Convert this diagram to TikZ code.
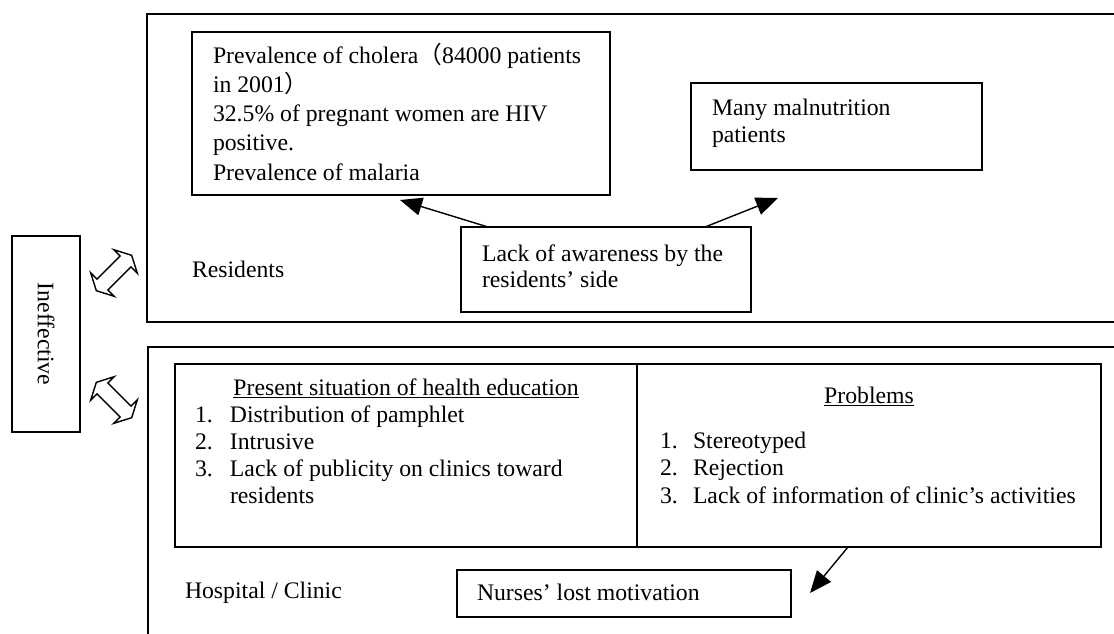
\documentclass[tikz,border=0pt]{standalone}
\usepackage{fontspec}
\setmainfont{Liberation Serif}
\newfontfamily\cjk{Noto Sans CJK SC}
\usetikzlibrary{arrows.meta,shapes.arrows}

\newlength{\du}
\setlength{\du}{0.02cm}
\definecolor{dialinecolor}{rgb}{0.000000, 0.000000, 0.000000}

\tikzset{
  box/.style={draw=dialinecolor, line width=0.9pt, inner sep=0pt, outer sep=0pt},
  txt/.style={inner sep=0pt, outer sep=0pt, align=left, font=\fontsize{13.5pt}{14.3pt}\selectfont},
  arr/.style={draw=dialinecolor, line width=0.8pt, -{Triangle[length=0.44cm,width=0.36cm]}},
  dblarr/.style={double arrow, draw=dialinecolor, line width=0.8pt, inner xsep=0pt, inner ysep=7\du,
    minimum height=50\du, minimum width=33\du, double arrow head extend=9\du, double arrow tip angle=125}
}

\begin{document}
\begin{tikzpicture}[x=\du,y=-\du]
\useasboundingbox (0,0) rectangle (1114,633);
% outer frames
\node[box, minimum width=973\du, minimum height=308\du, anchor=north west] (resid) at (147,14) {};
\node[box, minimum width=973\du, minimum height=300\du, anchor=north west] (hosp) at (148,347) {};
% left side
\node[box, txt, minimum width=196\du, minimum height=68\du, rotate=-90] (ineff) at (46,334) {Ineffective};
\node[dblarr, rotate=45] (dblup) at (114,273) {};
\node[dblarr, rotate=-45] (dbldown) at (114,400) {};
% residents
\node[box, minimum width=418\du, minimum height=163\du, anchor=north west] (cholera) at (192,32) {};
\node[txt, anchor=base west, font=\fontsize{13.5pt}{16.6pt}\selectfont] (choleratxt) at (213,180)
  {Prevalence of cholera{\cjk （}84000 patients\\ in 2001{\cjk ）}\\ 32.5\% of pregnant women are HIV\\ positive.\\ Prevalence of malaria};
\node[box, minimum width=291\du, minimum height=87\du, anchor=north west] (malnut) at (691,83) {};
\node[txt, anchor=base west, font=\fontsize{13.5pt}{15.3pt}\selectfont] (malnuttxt) at (712,142) {Many malnutrition\\ patients};
\node[box, minimum width=290\du, minimum height=85\du, anchor=north west] (aware) at (461,227) {};
\node[txt, anchor=base west] (awaretxt) at (482,287) {Lack of awareness by the\\ residents’ side};
\node[txt, anchor=base west] (residtxt) at (192,277) {Residents};
\coordinate (awareleft) at (400,200);
\coordinate (awareright) at (778,198);
\draw[arr] ([xshift=0.54cm]aware.north west) -- (awareleft);
\draw[arr] ([xshift=-0.92cm]aware.north east) -- (awareright);
% hospital / clinic
\node[box, minimum width=462\du, minimum height=183\du, anchor=north west] (present) at (175,364) {};
\node[box, minimum width=464\du, minimum height=183\du, anchor=north west] (probs) at (637,364) {};
\node[txt, anchor=base] (presenthead) at (406,395) {\underline{Present situation of health education}};
\node[txt, anchor=base west, font=\fontsize{13.5pt}{15.3pt}\selectfont] (presentlist) at (195,503)
  {\makebox[35\du][l]{1.}Distribution of pamphlet\\ \makebox[35\du][l]{2.}Intrusive\\
   \makebox[35\du][l]{3.}Lack of publicity on clinics toward\\ \hspace*{35\du}residents};
\node[txt, anchor=base] (probshead) at (869,403) {\underline{Problems}};
\node[txt, anchor=base west, font=\fontsize{13.5pt}{15.6pt}\selectfont] (probslist) at (660,503)
  {\makebox[33\du][l]{1.}Stereotyped\\ \makebox[33\du][l]{2.}Rejection\\
   \makebox[33\du][l]{3.}Lack of information of clinic’s activities};
\node[txt, anchor=base west] (hosptxt) at (185,598) {Hospital / Clinic};
\node[box, minimum width=334\du, minimum height=47\du, anchor=north west] (nurses) at (457,570) {};
\node[txt, anchor=base west] (nursestxt) at (477,600) {Nurses’ lost motivation};
\coordinate (lostend) at (810,593);
\draw[arr] ([xshift=-0.42cm]probs.south) -- (lostend);
\end{tikzpicture}
\end{document}
